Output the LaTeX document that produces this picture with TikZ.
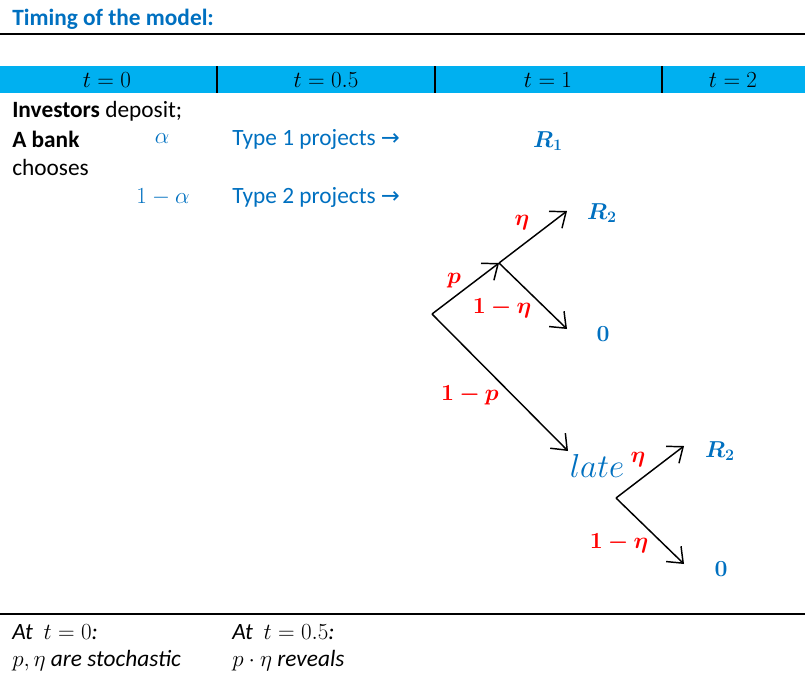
\documentclass[tikz,border=0pt]{standalone}
\usepackage[no-math]{fontspec}
\setmainfont{Carlito}
\newfontfamily\arrowfont{DejaVu Sans}
\usepackage{amsmath}
\usepackage{bm}
\usetikzlibrary{arrows.meta}
\definecolor{TMBlue}{HTML}{0070C0}
\definecolor{TMBar}{HTML}{00B0F0}
\definecolor{TMRed}{HTML}{FF0000}

\begin{document}
\begin{tikzpicture}[x=0.75pt,y=-0.75pt,
  txt/.style={anchor=west,inner sep=0pt,font=\fontsize{17.5}{20}\selectfont},
  hdr/.style={inner sep=0pt,font=\fontsize{17}{20}\selectfont},
  prob/.style={inner sep=0pt,text=TMRed,font=\fontsize{17.5}{20}\selectfont},
  pay/.style={inner sep=0pt,text=TMBlue,font=\fontsize{17.5}{20}\selectfont},
  branch/.style={line width=1.1pt,-{Straight Barb[length=10pt,width=16pt]}}]
\path[use as bounding box] (0,0) rectangle (805,675);
% title and rules
\node[txt,text=TMBlue,font=\fontsize{17.5}{20}\selectfont\bfseries] (title) at (12,19) {Timing of the model:};
\draw[line width=2.2pt] (0,34) -- (805,34);
\fill[TMBar] (0,66) rectangle (805,93);
\draw[line width=1.5pt] (217,66) -- (217,93);
\draw[line width=1.5pt] (435,66) -- (435,93);
\draw[line width=1.5pt] (662,66) -- (662,93);
\node[hdr] (t0) at (107,80) {$t=0$};
\node[hdr] (t05) at (326,80) {$t=0.5$};
\node[hdr] (t1) at (548,80) {$t=1$};
\node[hdr] (t2) at (733,80) {$t=2$};
% choice of the bank
\node[txt] (inv) at (12,111) {\textbf{Investors} deposit;};
\node[txt] (bank) at (12,139) {\textbf{A bank}};
\node[txt] (choose) at (12,167) {chooses};
\node[pay] (alpha) at (162,139) {$\alpha$};
\node[pay] (oneminus) at (163,197) {$1-\alpha$};
\node[txt,text=TMBlue] (type1) at (232,139) {Type 1 projects {\arrowfont\fontsize{17}{20}\selectfont→}};
\node[txt,text=TMBlue] (type2) at (232,197) {Type 2 projects {\arrowfont\fontsize{17}{20}\selectfont→}};
\node[pay] (rone) at (548,141) {$\boldsymbol{R_1}$};
% project tree
\coordinate (root) at (432,314);
\coordinate (early) at (499,263);
\coordinate (upR) at (567,211);
\coordinate (upZ) at (567,329);
\coordinate (lateTip) at (568,451);
\coordinate (fork) at (616,498);
\coordinate (lateR) at (684,446);
\coordinate (lateZ) at (684,564);
\draw[branch] (root) -- (early);
\draw[branch] (early) -- (upR);
\draw[branch] (early) -- (upZ);
\draw[branch] (root) -- (lateTip);
\draw[branch] (fork) -- (lateR);
\draw[branch] (fork) -- (lateZ);
\node[prob] (pp) at (454,281) {$\boldsymbol{p}$};
\node[prob] (eta1) at (522,223) {$\boldsymbol{\eta}$};
\node[prob] (neta1) at (502,308) {$\boldsymbol{1-\eta}$};
\node[prob] (np) at (470,395) {$\boldsymbol{1-p}$};
\node[prob] (eta2) at (638,460) {$\boldsymbol{\eta}$};
\node[prob] (neta2) at (619,543) {$\boldsymbol{1-\eta}$};
\node[pay] (rtwo) at (602,213) {$\boldsymbol{R_2}$};
\node[pay] (zero) at (603,334) {$\mathbf{0}$};
\node[pay,font=\fontsize{23}{25}\selectfont] (late) at (597,466) {$late$};
\node[pay] (rtwob) at (720,451) {$\boldsymbol{R_2}$};
\node[pay] (zerob) at (721,569) {$\mathbf{0}$};
% notes
\draw[line width=1.4pt] (0,614) -- (805,614);
\node[txt] (note0) at (12,632) {\textit{At}\ \ $t=0$\textit{:}};
\node[txt] (note0b) at (12,661) {$p,\eta$ \textit{are stochastic}};
\node[txt] (note1) at (232,632) {\textit{At}\ \ $t=0.5$\textit{:}};
\node[txt] (note1b) at (232,661) {$p\cdot\eta$ \textit{reveals}};
\end{tikzpicture}
\end{document}
